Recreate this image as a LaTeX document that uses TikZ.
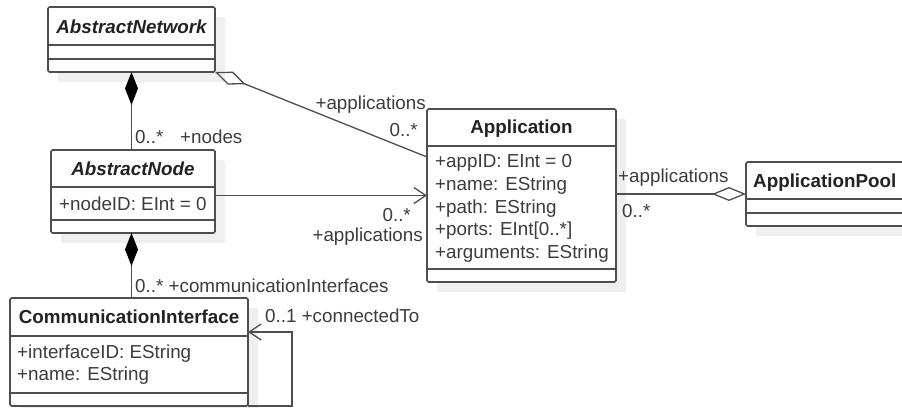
\documentclass[tikz,border=0pt]{standalone}
\usepackage{fontspec}
\setmainfont{Liberation Sans}
\usetikzlibrary{arrows.meta,shadows}
\definecolor{lncol}{HTML}{4E4E4E}
\definecolor{txtcol}{HTML}{3C3C3C}
\definecolor{ttlcol}{HTML}{222222}
\definecolor{shcol}{HTML}{EFEFEF}
\begin{document}
\begin{tikzpicture}[x=1pt,y=-1pt,
  font=\fontsize{18.8}{23}\selectfont,
  cls/.style={draw=lncol, line width=1.6pt, rounded corners=1.5pt, fill=white,
    anchor=north west, inner sep=0pt, outer sep=0pt,
    drop shadow={shadow xshift=10pt, shadow yshift=-10pt, opacity=1, fill=shcol, draw=none}},
  divider/.style={draw=lncol, line width=1.6pt},
  ttl/.style={inner sep=0pt, anchor=base, text=ttlcol, font=\fontsize{18.8}{23}\selectfont\bfseries},
  attr/.style={inner sep=0pt, anchor=base west, text=txtcol},
  lbl/.style={inner sep=0pt, text=txtcol},
  conn/.style={draw=lncol, line width=1.3pt},
  comp/.style={conn, {Diamond[length=33pt,width=13pt,fill=black,color=black]}-},
  agg/.style={conn, {Diamond[open,length=33pt,width=14pt]}-},
  aggend/.style={conn, -{Diamond[open,length=34pt,width=14pt]}},
  nav/.style={conn, -{Straight Barb[length=12pt,width=16pt]}}
]
\useasboundingbox (0,0) rectangle (902,407);
\clip (0,0) rectangle (902,407);

% class boxes
\node[cls, minimum width=167pt, minimum height=65pt] (an) at (48,7) {};
\node[cls, minimum width=164pt, minimum height=83pt] (anode) at (51,150) {};
\node[cls, minimum width=189pt, minimum height=173pt] (app) at (427,109) {};
\node[cls, minimum width=170pt, minimum height=64pt] (pool) at (746,162) {};
\node[cls, minimum width=238pt, minimum height=108pt] (ci) at (10,298) {};

% dividers
\draw[divider] (an.west |- 0,45) -- (an.east |- 0,45);
\draw[divider] (an.west |- 0,59) -- (an.east |- 0,59);
\draw[divider] (anode.west |- 0,187) -- (anode.east |- 0,187);
\draw[divider] (anode.west |- 0,220) -- (anode.east |- 0,220);
\draw[divider] (app.west |- 0,146) -- (app.east |- 0,146);
\draw[divider] (app.west |- 0,269) -- (app.east |- 0,269);
\draw[divider] (pool.west |- 0,199) -- (pool.east |- 0,199);
\draw[divider] (pool.west |- 0,213) -- (pool.east |- 0,213);
\draw[divider] (ci.west |- 0,336) -- (ci.east |- 0,336);
\draw[divider] (ci.west |- 0,393) -- (ci.east |- 0,393);

% titles
\node[ttl, font=\fontsize{18.8}{23}\selectfont\bfseries\itshape] (an-t) at (131.5,33) {AbstractNetwork};
\node[ttl, font=\fontsize{18.8}{23}\selectfont\bfseries\itshape] (anode-t) at (133,175.5) {AbstractNode};
\node[ttl] (app-t) at (521.5,133) {Application};
\node[ttl, anchor=base west] (pool-t) at (753,187) {ApplicationPool};
\node[ttl] (ci-t) at (129,323) {CommunicationInterface};

% attributes
\node[attr] (anode-a1) at (59,210) {+nodeID: EInt = 0};
\node[attr] (app-a1) at (435,167) {+appID: EInt = 0};
\node[attr] (app-a2) at (435,190) {+name: EString};
\node[attr] (app-a3) at (435,213) {+path: EString};
\node[attr] (app-a4) at (435,235.5) {+ports: EInt[0..*]};
\node[attr] (app-a5) at (435,258) {+arguments: EString};
\node[attr] (ci-a1) at (17,358) {+interfaceID: EString};
\node[attr] (ci-a2) at (17,380) {+name: EString};

% connectors
\draw[comp] (an.south) -- (an.south |- anode.north);
\draw[comp] (an.south |- anode.south) -- (an.south |- ci.north);
\draw[agg] (an.south east) -- ([yshift=-48pt]app.north west);
\draw[nav] (anode.east |- app.west) -- (app.west);
\draw[aggend] (app.east |- pool.west) -- (pool.west);
\draw[nav] (ci.south east) -- ++(44,0) |- ([yshift=-34pt]ci.north east);

% labels
\node[lbl, anchor=base west] (l-nodes-m) at (135,143) {0..*};
\node[lbl, anchor=base west] (l-nodes) at (180,143) {+nodes};
\node[lbl, anchor=base east] (l-app1) at (426,109) {+applications};
\node[lbl, anchor=base east] (l-app1-m) at (418,136) {0..*};
\node[lbl, anchor=base east] (l-app2-m) at (411,221) {0..*};
\node[lbl, anchor=base east] (l-app2) at (423,241) {+applications};
\node[lbl, anchor=base west] (l-app3) at (618,182) {+applications};
\node[lbl, anchor=base west] (l-app3-m) at (622,217) {0..*};
\node[lbl, anchor=base west] (l-ci) at (135,292) {0..* +communicationInterfaces};
\node[lbl, anchor=base west] (l-conn) at (265,322) {0..1 +connectedTo};
\end{tikzpicture}
\end{document}
